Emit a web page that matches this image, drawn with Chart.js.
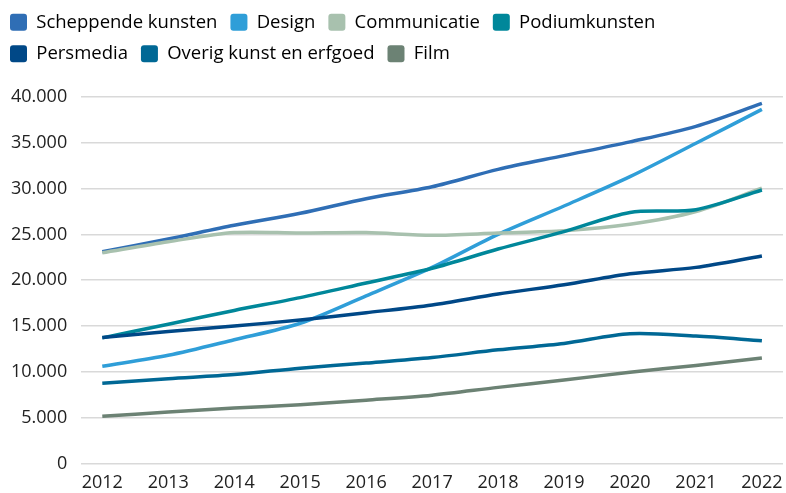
<!DOCTYPE html>
<html>
<head>
<meta charset="utf-8">
<script src="https://cdn.jsdelivr.net/npm/chart.js@4/dist/chart.umd.min.js"></script>
<style>
html,body{margin:0;padding:0;background:#fff;}
#wrap{width:786px;height:493px;position:relative;}
</style>
</head>
<body>
<div id="wrap"><canvas id="c" width="786" height="493"></canvas></div>
<script>
const years = [2012,2013,2014,2015,2016,2017,2018,2019,2020,2021,2022];
const seriesNames = ["Scheppende kunsten","Design","Communicatie","Podiumkunsten","Persmedia","Overig kunst en erfgoed","Film"];
const scheppende = [23100,24500,26000,27300,28900,30200,32100,33600,35100,36800,39300];
const design     = [10600,11800,13500,15300,18300,21400,25000,28100,31300,34950,38650];
const communicatie = [23000,24200,25200,25150,25200,24900,25150,25400,26100,27500,30050];
const podium     = [13700,15200,16700,18100,19700,21300,23400,25300,27400,27700,29850];
const persmedia  = [13750,14400,15000,15650,16450,17300,18500,19500,20700,21400,22650];
const overig     = [8750,9250,9700,10400,10950,11550,12400,13100,14150,13900,13400];
const film       = [5150,5600,6050,6400,6900,7450,8300,9100,9950,10700,11500];
const yTicks = [0,5000,10000,15000,20000,25000,30000,35000,40000];
const colors = ["#2F6EB5","#2F9ED8","#A8C1AE","#00879A","#004887","#006895","#6C8274"];

const allSeries = [scheppende,design,communicatie,podium,persmedia,overig,film];
const fmt = v => String(v).replace(/\B(?=(\d{3})+(?!\d))/g, '.');

const datasets = allSeries.map((vals,i)=>({
  label: seriesNames[i],
  data: years.map((y,j)=>({x:y,y:vals[j]})),
  borderColor: colors[i],
  backgroundColor: colors[i],
  borderWidth: 3.5,
  pointRadius: 0,
  tension: 0.3,
  fill: false,
  order: allSeries.length - i
}));

const legendSpacer = {
  id: 'legendSpacer',
  afterInit(chart) {
    const lg = chart.legend;
    if (!lg) return;
    const orig = lg.fit;
    lg.fit = function() { orig.call(this); this.height += 24; };
  }
};

new Chart(document.getElementById('c'), {
  type: 'line',
  data: { datasets },
  plugins: [legendSpacer],
  options: {
    responsive: false,
    animation: false,
    devicePixelRatio: 1,
    layout: { padding: { left: -3, right: 3, top: 0, bottom: -10 } },
    plugins: {
      tooltip: { enabled: false },
      legend: {
        position: 'top',
        align: 'start',
        labels: {
          sort: (a,b) => a.datasetIndex - b.datasetIndex,
          boxWidth: 17,
          boxHeight: 17,
          padding: 13,
          color: '#222',
          font: { family: "'Open Sans'", size: 18.5 },
          generateLabels: (chart) => chart.data.datasets.map((d,i)=>({
            text: d.label,
            fillStyle: d.backgroundColor,
            strokeStyle: d.backgroundColor,
            lineWidth: 0,
            borderRadius: 3,
            datasetIndex: i,
            hidden: false
          }))
        }
      }
    },
    scales: {
      x: {
        type: 'linear',
        min: 2011.68,
        max: 2022.32,
        afterBuildTicks: axis => { axis.ticks = years.map(v=>({value:v})); },
        grid: { display: false, drawTicks: false },
        border: { display: false },
        ticks: {
          color: '#222',
          font: { family: "'Open Sans'", size: 18, lineHeight: 2.2 },
          padding: 0,
          maxRotation: 0,
          autoSkip: false,
          callback: v => String(v)
        }
      },
      y: {
        min: 0,
        max: 40000,
        afterBuildTicks: axis => { axis.ticks = yTicks.map(v=>({value:v})); },
        grid: { color: '#d9d9d9', lineWidth: 1.5, drawTicks: false },
        border: { display: false },
        ticks: {
          color: '#222',
          font: { family: "'Open Sans'", size: 18 },
          padding: 14,
          callback: v => fmt(v)
        }
      }
    }
  }
});
</script>
</body>
</html>
